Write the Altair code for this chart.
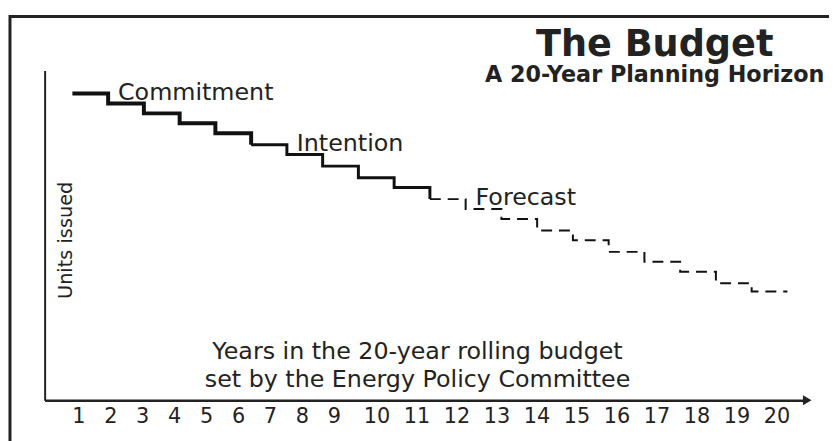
import json
import altair as alt
import pandas as pd

# ---------------- data ----------------
years = list(range(1, 21))
units = [93, 90, 87, 84, 81, 77.5, 74.5, 71, 67.5, 64.5,
         61, 58, 55, 51.5, 48.5, 45, 42, 39, 35.5, 33]
phases = ["Commitment"] * 5 + ["Intention"] * 5 + ["Forecast"] * 10
phase_names = ["Commitment", "Intention", "Forecast"]
tick_labels = [str(y) for y in years]
title_text = "The Budget"
subtitle_text = "A 20-Year Planning Horizon"
x_title = ["Years in the 20-year rolling budget", "set by the Energy Policy Committee"]
y_title = "Units issued"

# step rows: each phase closes on the next phase's first level (or its own last one)
rows = []
for p in phase_names:
    idx = [i for i, ph in enumerate(phases) if ph == p]
    for i in idx:
        rows.append({"phase": p, "year": years[i], "units": units[i]})
    last = idx[-1]
    if last + 1 < len(years):
        rows.append({"phase": p, "year": years[last + 1], "units": units[last + 1]})
    else:
        rows.append({"phase": p, "year": years[last] + 1, "units": units[last]})
steps = pd.DataFrame(rows)

# annotation anchors: end of the first step of each phase
ann_rows = []
for p in phase_names:
    i = phases.index(p)
    ann_rows.append({"phase": p, "year": years[i] + 1, "units": units[i]})
ann = pd.DataFrame(ann_rows)

labels_df = pd.DataFrame({"year": years, "label": tick_labels})
one = pd.DataFrame({"k": [0]})

# ---------------- style ----------------
INK = "#222222"
FONT = "DejaVu Sans"
W, H = 770, 333

x_scale = alt.Scale(domain=[0.224, 21.554], nice=False, zero=False)
y_scale = alt.Scale(domain=[0, 100], nice=False, zero=False)

y_axis = alt.Axis(domain=True, domainColor=INK, domainWidth=2, ticks=False,
                  labels=False, grid=False, title=y_title, titleAngle=-90,
                  titleX=21, titleY=171, titleAlign="center",
                  titleBaseline="middle", titleFont=FONT,
                  titleFontSize=19.5, titleFontWeight="normal", titleColor=INK)

frame = alt.Chart(one).mark_rect(fillOpacity=0, stroke=INK, strokeWidth=3).encode(
    x=alt.value(-35), x2=alt.value(900), y=alt.value(-54.5), y2=alt.value(600)
)

line = alt.Chart(steps).mark_line(interpolate="step-after", color="#111111").encode(
    x=alt.X("year:Q", scale=x_scale, axis=None),
    y=alt.Y("units:Q", scale=y_scale, axis=y_axis),
    order="year:Q",
    strokeWidth=alt.StrokeWidth("phase:N", scale=alt.Scale(domain=phase_names, range=[4, 2, 2]), legend=None),
    strokeDash=alt.StrokeDash("phase:N", scale=alt.Scale(domain=phase_names, range=[[1, 0], [1, 0], [11, 7]]), legend=None),
)

notes = alt.Chart(ann).mark_text(align="left", baseline="alphabetic", dx=10, dy=6,
                                 font=FONT, fontSize=24, color=INK).encode(
    x=alt.X("year:Q", scale=x_scale, axis=None),
    y=alt.Y("units:Q", scale=y_scale, axis=y_axis),
    text="phase:N",
)

label_expr = json.dumps(tick_labels) + "[datum.value - 1]"
ticks_layer = alt.Chart(labels_df).mark_point(opacity=0).encode(
    x=alt.X("year:Q",
            scale=alt.Scale(domain=[-0.054, 1, 9, 10, 20, 20.77],
                            range=[0, 34, 292, 335, 739, W], nice=False, zero=False),
            axis=alt.Axis(values=years, labelExpr=label_expr, ticks=False, grid=False,
                          domain=True, domainColor=INK, domainWidth=2.5,
                          labelFont=FONT, labelFontSize=21, labelColor=INK,
                          labelPadding=5, labelBaseline="top", labelFlush=False,
                          labelOverlap=False, title=x_title, titleFont=FONT,
                          titleFontSize=24, titleFontWeight="normal", titleColor=INK,
                          titleX=376, titleY=-42, titleAlign="center",
                          titleBaseline="alphabetic", titleLineHeight=28)),
)

arrow = alt.Chart(one).mark_point(shape="triangle-right", filled=True, size=100,
                                  color=INK, opacity=1).encode(
    x=alt.value(W), y=alt.value(H)
)

title = alt.Chart(pd.DataFrame({"t": [title_text]})).mark_text(
    align="center", baseline="alphabetic", font=FONT, fontSize=37,
    fontWeight="bold", color=INK).encode(text="t:N", x=alt.value(616), y=alt.value(-15))
subtitle = alt.Chart(pd.DataFrame({"t": [subtitle_text]})).mark_text(
    align="center", baseline="alphabetic", font=FONT, fontSize=22.5,
    fontWeight="bold", color=INK).encode(text="t:N", x=alt.value(616), y=alt.value(12))

chart = alt.layer(frame, ticks_layer, line, notes, arrow, title, subtitle).resolve_scale(
    x="independent"
).properties(
    width=W, height=H,
    autosize=alt.AutoSizeParams(type="none"),
    padding={"left": 37, "top": 61, "right": 22, "bottom": 39},
    background="white",
).configure_view(strokeWidth=0)

chart.save("out.html", embed_options={"renderer": "svg", "actions": False})
